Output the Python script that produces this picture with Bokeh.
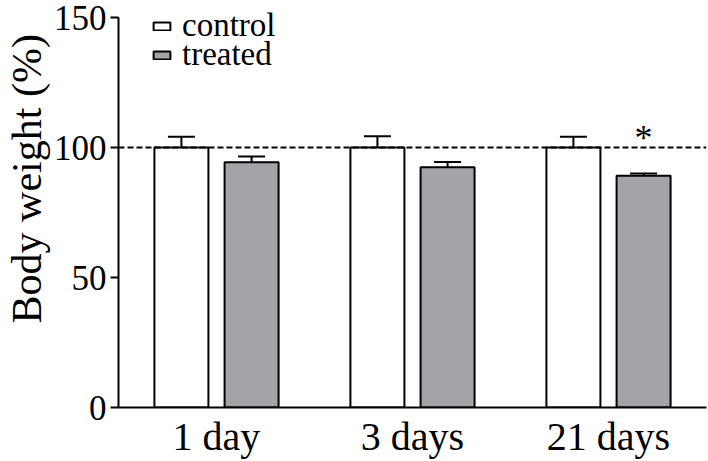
from bokeh.plotting import figure
from bokeh.models import (ColumnDataSource, FactorRange, Span, Whisker, TeeHead,
                          Legend, LegendItem, FixedTicker)
from bokeh.transform import dodge
from bokeh.core.properties import value
from bokeh.embed import file_html
from bokeh.resources import INLINE

days = ["1 day", "3 days", "21 days"]
control = [100.0, 100.0, 100.0]
control_err = [4.2, 4.3, 4.2]
treated = [94.3, 92.4, 89.2]
treated_err = [2.3, 2.0, 0.8]
y_ticks = [0, 50, 100, 150]
y_axis_max = 150
reference_level = 100
star_day = ["21 days"]
star_y = [103.5]

FONT = "Liberation Serif"
GRAY = "#a3a3a8"
OFF = 0.179
BW = 0.2755

src = ColumnDataSource(dict(
    day=days, control=control, treated=treated,
    c_lo=control, c_hi=[v + e for v, e in zip(control, control_err)],
    t_lo=treated, t_hi=[v + e for v, e in zip(treated, treated_err)],
))

# frame extends slightly above 150 so the legend (drawn inside the frame) fits;
# the axis line itself is bounded to 0..150
p = figure(x_range=FactorRange(*days, range_padding=0), y_range=(0, 155.8),
           frame_width=588, frame_height=405,
           output_backend="svg", toolbar_location=None,
           min_border_left=116, min_border_right=4, min_border_top=2,
           min_border_bottom=54)
p.outline_line_color = None
p.grid.visible = False
p.background_fill_color = "white"

ref = Span(location=reference_level, dimension="width", line_color="black",
           line_width=2, line_dash="6 3")
p.add_layout(ref)

# error bars (upper only)
for off, lo, hi in [(-OFF, "c_lo", "c_hi"), (OFF, "t_lo", "t_hi")]:
    w = Whisker(base=dodge("day", off, range=p.x_range), lower=lo, upper=hi,
                source=src, line_color="black", line_width=2,
                upper_head=TeeHead(size=27, line_color="black", line_width=2),
                lower_head=None, level="underlay")
    p.add_layout(w)

rc = p.vbar(x=dodge("day", -OFF, range=p.x_range), top="control", width=BW,
            source=src, fill_color="white", line_color="black", line_width=2)
rt = p.vbar(x=dodge("day", OFF, range=p.x_range), top="treated", width=BW,
            source=src, fill_color=GRAY, line_color="black", line_width=2)

star_src = ColumnDataSource(dict(day=star_day, y=star_y, t=["*"]))
p.text(x=dodge("day", OFF, range=p.x_range), y="y", text="t", source=star_src,
       text_font=value(FONT), text_font_size="36px", text_align="center",
       text_baseline="alphabetic", text_color="black")

# axes
p.yaxis.ticker = FixedTicker(ticks=y_ticks)
p.yaxis.bounds = (0, y_axis_max)
p.yaxis.minor_tick_line_color = None
p.yaxis.major_tick_out = 8
p.yaxis.major_tick_in = 0
p.yaxis.major_tick_line_width = 2
p.yaxis.axis_line_width = 2
p.yaxis.major_label_standoff = 4
p.yaxis.axis_label = "\u00a0" * 5 + "Body weight (%)"
p.yaxis.axis_label_standoff = 1
p.yaxis.axis_label_text_font_style = "normal"

p.xaxis.major_tick_line_color = None
p.xaxis.minor_tick_line_color = None
p.xaxis.axis_line_width = 2
p.xaxis.major_label_standoff = 0

for ax in (p.xaxis, p.yaxis):
    ax.major_label_text_font = FONT
    ax.major_label_text_font_size = "35px"
    ax.major_label_text_color = "black"
    ax.axis_label_text_font = FONT
    ax.axis_label_text_font_size = "42px"
    ax.axis_label_text_color = "black"
    ax.axis_line_color = "black"
p.xaxis.major_label_text_font_size = "40px"

# legend: two single-item legends, positioned independently
for label, r, y in [("control", rc, 363), ("treated", rt, 334)]:
    lg = Legend(items=[LegendItem(label=label, renderers=[r])],
                location=(33, y), padding=0, margin=0, spacing=0,
                glyph_width=21, glyph_height=10, label_standoff=10,
                label_text_font=FONT, label_text_font_size="33px",
                label_text_color="black", border_line_color=None,
                background_fill_alpha=0)
    p.add_layout(lg)

open("out.html", "w").write(file_html(p, INLINE))
